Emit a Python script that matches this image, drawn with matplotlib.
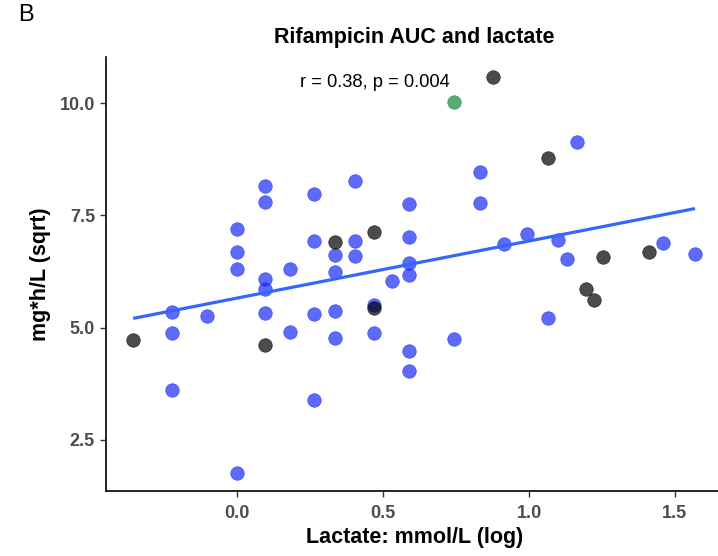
import numpy as np
import matplotlib
matplotlib.use("Agg")
import matplotlib.pyplot as plt

plt.rcParams['font.family'] = ['Liberation Sans', 'DejaVu Sans']

# ln(lactate) and sqrt(AUC) values
blue_x = [-0.223, -0.223, -0.223, -0.105,
          0.0, 0.0, 0.0, 0.0,
          0.095, 0.095, 0.095, 0.095, 0.095,
          0.182, 0.182,
          0.262, 0.262, 0.262, 0.262,
          0.336, 0.336, 0.336, 0.336,
          0.405, 0.405, 0.405,
          0.470, 0.470,
          0.531,
          0.588, 0.588, 0.588, 0.588, 0.588, 0.588,
          0.742,
          0.833, 0.833,
          0.916, 0.993, 1.065, 1.099, 1.131, 1.163, 1.459, 1.569]
blue_y = [5.34, 4.87, 3.60, 5.25,
          7.19, 6.68, 6.31, 1.75,
          8.16, 7.80, 6.09, 5.85, 5.33,
          6.31, 4.91,
          7.97, 6.92, 5.30, 3.38,
          6.61, 6.24, 5.36, 4.76,
          8.26, 6.92, 6.60,
          5.51, 4.88,
          6.05,
          7.76, 7.03, 6.43, 6.18, 4.48, 4.04,
          4.74,
          8.47, 7.78,
          6.86, 7.08, 5.21, 6.96, 6.53, 9.13, 6.89, 6.65]

dark_x = [-0.357, 0.095, 0.336, 0.470, 0.470, 0.875, 1.065, 1.194, 1.224, 1.253, 1.411]
dark_y = [4.73, 4.62, 6.91, 7.14, 5.44, 10.59, 8.79, 5.87, 5.62, 6.57, 6.69]

green_x = [0.742]
green_y = [10.02]

x_ticks = [0.0, 0.5, 1.0, 1.5]
x_tick_labels = ["0.0", "0.5", "1.0", "1.5"]
y_ticks = [2.5, 5.0, 7.5, 10.0]
y_tick_labels = ["2.5", "5.0", "7.5", "10.0"]

title = "Rifampicin AUC and lactate"
stat_label = "r = 0.38, p = 0.004"

fig = plt.figure(figsize=(7.18, 5.56), dpi=100)
ax = fig.add_axes([106/718, 1 - 491/556, (723 - 106)/718, (491 - 57)/556])

ms = 95
ax.scatter(blue_x, blue_y, s=ms, color='#1A2BF8', alpha=0.7, edgecolors='#1A2BF8', linewidths=0.5, zorder=2)
ax.scatter(dark_x, dark_y, s=ms, color='black', alpha=0.7, edgecolors='black', linewidths=0.5, zorder=2)
ax.scatter(green_x, green_y, s=ms, color='#13863E', alpha=0.7, edgecolors='#13863E', linewidths=0.5, zorder=2)

all_x = np.array(blue_x + dark_x + green_x)
all_y = np.array(blue_y + dark_y + green_y)
slope, intercept = np.polyfit(all_x, all_y, 1)
xl = np.array([all_x.min(), all_x.max()])
ax.plot(xl, slope * xl + intercept, color='#3366FF', lw=2.3, zorder=3, solid_capstyle='butt')

ax.set_xlim(-0.45, 1.665)
ax.set_ylim(1.36, 11.03)
ax.set_xticks(x_ticks)
ax.set_xticklabels(x_tick_labels)
ax.set_yticks(y_ticks)
ax.set_yticklabels(y_tick_labels)

for s in ['top', 'right']:
    ax.spines[s].set_visible(False)
for s in ['left', 'bottom']:
    ax.spines[s].set_linewidth(1.2)
    ax.spines[s].set_color('black')

ax.tick_params(axis='both', direction='out', length=4, width=1, color='#333333',
               labelcolor='#4D4D4D', labelsize=13)
ax.tick_params(axis='x', pad=6)
ax.tick_params(axis='y', pad=4)
for lab in ax.get_xticklabels() + ax.get_yticklabels():
    lab.set_fontweight('bold')

ax.set_xlabel("Lactate: mmol/L (log)", fontsize=15.5, fontweight='bold', labelpad=4)
ax.set_ylabel("mg*h/L (sqrt)", fontsize=15.5, fontweight='bold', labelpad=6)

fig.text(414/718, 1 - 37/556, title, ha='center', va='center', fontsize=15.5, fontweight='bold')
ax.text(0.47, 10.47, stat_label, ha='center', va='center', fontsize=13.2, color='black')
fig.text(25.5/718, 1 - 15/556, "B", ha='center', va='center', fontsize=17)

fig.savefig("out.png", dpi=100)
